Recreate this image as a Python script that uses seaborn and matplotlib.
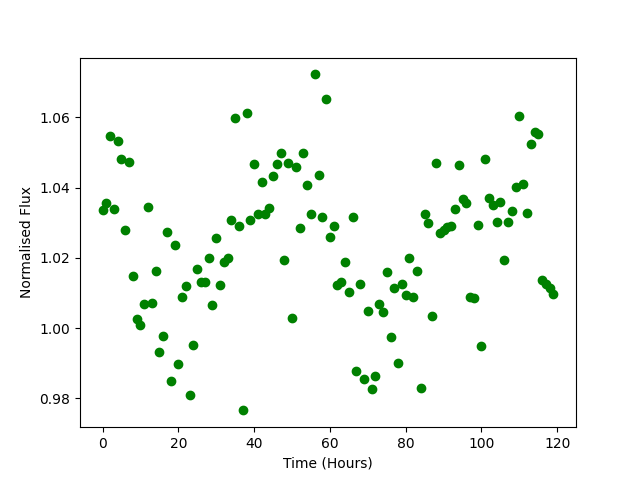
import matplotlib
matplotlib.use("Agg")
import matplotlib.pyplot as plt
import pandas as pd
import seaborn as sns

# hourly samples, 0..119
hours = list(range(120))

flux = [
    1.0335, 1.0355, 1.0546, 1.0338, 1.0532, 1.0480, 1.0278, 1.0472, 1.0147, 1.0025,
    1.0008, 1.0068, 1.0344, 1.0073, 1.0164, 0.9931, 0.9979, 1.0273, 0.9851, 1.0236,
    0.9897, 1.0088, 1.0119, 0.9811, 0.9951, 1.0167, 1.0130, 1.0130, 1.0201, 1.0065,
    1.0256, 1.0122, 1.0187, 1.0199, 1.0307, 1.0597, 1.0290, 0.9766, 1.0611, 1.0307,
    1.0466, 1.0324, 1.0415, 1.0324, 1.0341, 1.0432, 1.0466, 1.0498, 1.0193, 1.0469,
    1.0028, 1.0458, 1.0284, 1.0498, 1.0406, 1.0324, 1.0722, 1.0435, 1.0315, 1.0651,
    1.0258, 1.0290, 1.0122, 1.0130, 1.0187, 1.0102, 1.0315, 0.9877, 1.0125, 0.9854,
    1.0048, 0.9828, 0.9863, 1.0068, 1.0045, 1.0159, 0.9974, 1.0113, 0.9900, 1.0125,
    1.0093, 1.0201, 1.0090, 1.0164, 0.9831, 1.0324, 1.0298, 1.0036, 1.0469, 1.0270,
    1.0278, 1.0287, 1.0290, 1.0338, 1.0463, 1.0367, 1.0355, 1.0088, 1.0085, 1.0293,
    0.9948, 1.0480, 1.0369, 1.0349, 1.0301, 1.0358, 1.0193, 1.0301, 1.0332, 1.0401,
    1.0603, 1.0409, 1.0327, 1.0523, 1.0557, 1.0552, 1.0136, 1.0125, 1.0113, 1.0096,
]

df = pd.DataFrame({"Time (Hours)": hours, "Normalised Flux": flux})

fig, ax = plt.subplots(figsize=(6.4, 4.8), dpi=100)
sns.scatterplot(
    x="Time (Hours)",
    y="Normalised Flux",
    data=df,
    color="green",
    edgecolor="green",
    linewidth=1,
    s=36,
    ax=ax)

fig.savefig("out.png")
